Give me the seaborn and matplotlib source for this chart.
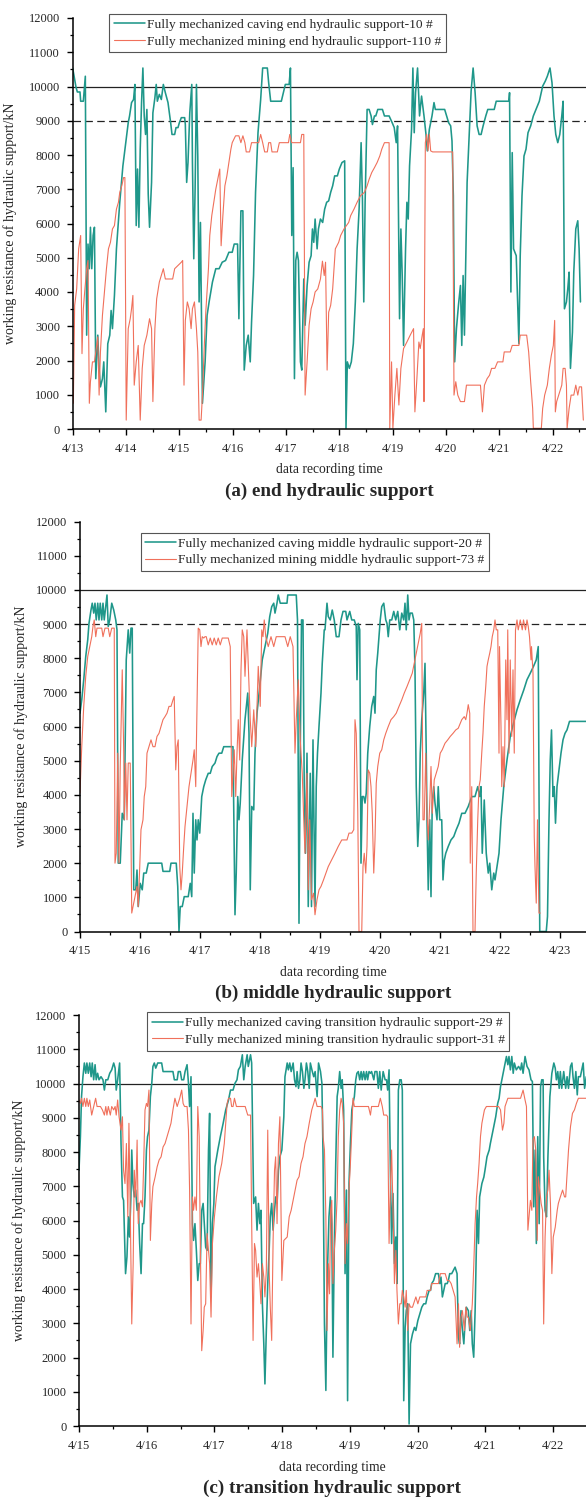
import matplotlib
matplotlib.use("Agg")
import matplotlib.pyplot as plt
import matplotlib.dates as mdates
import matplotlib.ticker as mticker
import seaborn as sns
import pandas as pd

# ---- data: hours since the first day shown, working resistance in kN ----

# (a) end hydraulic support, from 4/13
end_caving_h = [
    0.0, 1.5, 2.1, 3.3, 3.6, 4.8, 5.1, 5.7, 6.3, 6.9,
    7.5, 8.0, 8.6, 9.2, 9.8, 10.4, 11.3, 11.9, 12.5, 13.4,
    14.0, 14.9, 15.8, 16.7, 17.3, 17.9, 18.8, 19.7, 21.2, 22.6,
    24.1, 25.0, 25.6, 26.5, 27.4, 28.0, 28.6, 29.2, 29.8, 30.4,
    31.0, 31.6, 32.2, 32.8, 33.4, 34.0, 34.6, 35.5, 36.1, 37.0,
    37.6, 38.1, 39.0, 39.9, 40.8, 41.7, 42.9, 44.1, 44.7, 45.9,
    46.5, 47.4, 48.0, 48.9, 50.4, 50.7, 51.3, 51.9, 52.7, 53.6,
    53.9, 54.5, 55.1, 55.7, 56.3, 56.9, 57.5, 58.4, 59.0, 59.6,
    60.5, 61.4, 62.9, 64.4, 65.9, 67.3, 68.8, 70.3, 71.8, 72.7,
    74.2, 74.8, 75.7, 76.6, 77.2, 78.1, 79.0, 79.9, 80.5, 81.4,
    82.3, 83.4, 84.6, 85.5, 87.6, 88.2, 89.1, 93.9, 94.8, 95.7,
    97.4, 98.0, 98.6, 99.2, 99.8, 100.4, 101.0, 101.6, 102.5, 103.1,
    104.0, 104.6, 105.5, 106.4, 107.3, 107.9, 108.5, 109.1, 110.0, 110.6,
    111.5, 112.5, 113.4, 114.3, 115.2, 116.1, 117.0, 117.9, 119.1, 120.0,
    121.2, 122.4, 123.0, 123.6, 124.5, 125.4, 126.3, 127.2, 128.0, 128.9,
    129.8, 130.4, 131.0, 131.6, 132.5, 133.4, 134.3, 134.9, 135.8, 136.4,
    137.3, 139.4, 140.3, 142.4, 143.8, 144.7, 145.6, 146.2, 147.1, 147.7,
    148.3, 148.9, 149.8, 150.4, 151.0, 151.6, 152.5, 153.1, 153.7, 154.3,
    155.2, 156.1, 157.0, 158.1, 159.0, 159.6, 160.5, 161.7, 162.6, 163.2,
    167.4, 168.3, 169.2, 170.1, 170.7, 171.3, 171.9, 172.7, 173.6, 174.5,
    175.1, 175.7, 176.3, 176.9, 177.5, 178.4, 179.3, 180.2, 181.1, 182.0,
    182.9, 183.8, 184.7, 185.9, 186.8, 189.7, 190.6, 196.3, 196.6, 197.2,
    197.8, 198.4, 199.6, 200.8, 201.4, 202.2, 203.1, 204.0, 204.9, 206.1,
    207.3, 208.5, 210.0, 211.5, 212.7, 213.6, 214.8, 215.7, 216.6, 217.4,
    218.3, 219.2, 220.1, 220.7, 221.3, 222.2, 222.8, 223.4, 224.0, 224.9,
    225.5, 226.4, 227.3, 227.9, 228.5,
]
end_caving_kn = [
    10540, 9980, 9840, 9840, 9570, 9570, 9820, 10300, 2740, 5400,
    4680, 5890, 4680, 5650, 5890, 1470, 2740, 1770, 1230, 1470,
    1960, 500, 2490, 2740, 3460, 2930, 3900, 5260, 6620, 7680,
    8460, 8940, 9140, 9530, 9620, 10060, 5940, 7590, 5890, 8170,
    9530, 10540, 9140, 8600, 9330, 6860, 5890, 7200, 9230, 9670,
    10060, 9570, 9770, 9620, 10060, 9820, 9530, 8940, 8600, 8600,
    8800, 8800, 8940, 9090, 9090, 8890, 7200, 7780, 9230, 10060,
    7780, 4970, 7000, 10060, 7970, 3710, 6030, 750, 1380, 1960,
    3320, 3710, 4290, 4680, 4680, 4870, 4920, 5160, 5160, 5400,
    5400, 3220, 6370, 6370, 1720, 2440, 2740, 1960, 3120, 4480,
    6910, 8650, 9620, 10540, 10540, 10110, 9570, 9570, 9820, 10060,
    10060, 10540, 5650, 7630, 1470, 4920, 5160, 4920, 1960, 1720,
    4380, 3030, 4190, 4870, 5060, 5840, 5450, 6130, 5260, 5840,
    6130, 6030, 6420, 6620, 6660, 6910, 7100, 7390, 7390, 7590,
    7780, 7830, 20, 1960, 1770, 1960, 2490, 3710, 5260, 6420,
    8360, 6710, 3710, 6620, 9330, 9330, 9140, 8890, 9140, 9140,
    9330, 9330, 9140, 9140, 8940, 8800, 8360, 8850, 3220, 5840,
    4480, 2440, 5260, 6620, 6130, 7680, 8750, 10540, 8650, 9820,
    10540, 9140, 9720, 9140, 8600, 8120, 8750, 9140, 9530, 9330,
    9330, 9140, 8940, 8850, 8410, 6810, 1960, 2930, 3610, 4190,
    2440, 4480, 2740, 5060, 7200, 8560, 9860, 10540, 9820, 8850,
    8600, 8600, 8850, 9140, 9330, 9330, 9570, 9570, 9820, 4000,
    8070, 5260, 5060, 2490, 5060, 6810, 7970, 8170, 8650, 8850,
    9140, 9330, 9570, 10010, 10160, 10300, 10540, 10110, 9140, 8600,
    8360, 8600, 9140, 9570, 3510, 3710, 4090, 4580, 1770, 2830,
    4580, 5840, 6080, 5260, 3710,
]
end_mining_h = [
    0.3, 0.9, 1.8, 2.7, 3.6, 4.2, 4.8, 5.4, 6.3, 6.9,
    7.5, 8.0, 8.9, 9.8, 10.4, 11.3, 11.9, 12.5, 13.4, 14.3,
    15.2, 16.1, 17.0, 17.9, 18.8, 19.7, 20.6, 21.2, 22.1, 22.9,
    23.5, 24.1, 25.0, 25.9, 26.5, 27.1, 27.7, 28.6, 29.5, 30.4,
    31.3, 32.2, 33.4, 34.6, 35.5, 36.1, 37.0, 37.8, 39.0, 39.9,
    40.8, 41.7, 45.0, 45.9, 48.9, 49.5, 50.1, 50.7, 51.6, 52.4,
    53.3, 53.9, 54.8, 55.7, 56.3, 56.9, 57.8, 58.4, 59.3, 59.9,
    61.1, 61.7, 62.6, 63.5, 64.4, 65.3, 66.2, 66.8, 67.6, 68.5,
    69.4, 70.3, 71.2, 71.8, 73.3, 74.8, 75.7, 76.6, 77.5, 78.1,
    79.6, 80.5, 83.7, 84.6, 85.5, 86.4, 87.6, 88.2, 89.1, 89.7,
    92.1, 93.0, 97.1, 97.7, 98.6, 102.5, 103.1, 104.0, 104.6, 105.5,
    106.4, 107.3, 108.2, 109.1, 110.3, 111.5, 112.4, 113.2, 113.8, 114.5,
    115.2, 116.1, 117.0, 118.2, 119.7, 120.6, 122.1, 124.2, 125.1, 126.6,
    128.0, 129.5, 131.3, 132.5, 133.4, 134.6, 135.8, 137.0, 138.2, 139.1,
    140.3, 142.4, 142.7, 143.5, 144.1, 145.0, 145.9, 146.8, 147.7, 148.9,
    150.4, 151.9, 153.4, 154.0, 154.9, 155.8, 156.4, 157.3, 157.8, 158.1,
    158.7, 159.3, 159.9, 160.5, 161.1, 162.0, 171.0, 171.6, 172.4, 173.3,
    174.5, 176.3, 177.2, 183.5, 184.4, 185.3, 186.5, 187.6, 188.5, 190.0,
    191.2, 193.6, 194.2, 196.9, 197.8, 200.8, 201.4, 204.3, 205.2, 206.1,
    207.0, 207.3, 210.9, 211.5, 212.4, 213.6, 214.5, 215.4, 216.3, 216.9,
    217.2, 217.8, 218.7, 220.1, 220.7, 221.6, 222.2, 222.5, 223.4, 224.3,
    225.5, 226.4, 227.3, 228.0, 229.0, 229.8,
]
end_mining_kn = [
    750, 3610, 4090, 5260, 5650, 2200, 3510, 4000, 4680, 4920,
    750, 1380, 1960, 1960, 2250, 2690, 990, 2250, 3320, 4000,
    4680, 5260, 5450, 5840, 5940, 6420, 6620, 6910, 7100, 7340,
    7340, 260, 2930, 3220, 3510, 3900, 1280, 1960, 2440, 260,
    1770, 2440, 2740, 3220, 2930, 800, 2930, 3800, 4290, 4480,
    4680, 4380, 4380, 4680, 4870, 4920, 1280, 3170, 3710, 3510,
    2930, 3510, 3710, 2930, 2250, 260, 260, 990, 2540, 3410,
    4680, 5650, 6230, 6620, 7000, 7290, 7590, 5350, 6230, 7100,
    7390, 7780, 8170, 8360, 8560, 8560, 8360, 8560, 8360, 8090,
    8090, 8360, 8360, 8600, 8360, 8090, 8090, 8360, 8360, 8090,
    8090, 8360, 8360, 8600, 8360, 8360, 8600, 8600, 990, 1960,
    3030, 3510, 3710, 4000, 4090, 4380, 4900, 4480, 4870, 1720,
    3410, 3610, 4090, 5260, 5450, 5650, 5840, 6030, 6230, 6420,
    6620, 6810, 6910, 7100, 7290, 7490, 7630, 7780, 7970, 8170,
    8360, 8360, 20, 1960, 20, 990, 1770, 700, 1770, 2350,
    2540, 2740, 2930, 500, 1470, 2540, 2350, 2740, 2930, 800,
    8360, 8600, 8120, 8600, 8120, 8090, 8090, 990, 1380, 990,
    800, 800, 1280, 1280, 500, 1280, 1470, 1570, 1770, 1770,
    1960, 1960, 2250, 2250, 2440, 2440, 2740, 2740, 2250, 1380,
    600, 20, 20, 600, 990, 1280, 1770, 2150, 2440, 3170,
    500, 800, 990, 1280, 1770, 1770, 1280, 20, 600, 990,
    990, 1280, 990, 1230, 1230, 260,
]

# (b) middle hydraulic support, from 4/15
mid_caving_h = [
    0.0, 0.7, 1.5, 2.3, 3.1, 3.6, 4.4, 4.9, 5.5, 6.0,
    6.5, 7.1, 7.6, 8.1, 8.7, 9.2, 9.7, 10.3, 10.8, 11.3,
    11.9, 12.7, 13.5, 14.3, 14.8, 15.3, 16.1, 16.9, 17.7, 18.5,
    19.3, 19.9, 20.4, 20.9, 21.5, 22.3, 22.8, 23.3, 24.1, 24.9,
    25.5, 26.5, 27.3, 32.7, 33.2, 35.9, 36.4, 38.5, 39.1, 39.6,
    40.1, 40.9, 41.7, 43.3, 44.1, 44.7, 45.2, 45.7, 46.3, 46.8,
    47.3, 47.9, 48.7, 49.5, 50.3, 51.3, 52.1, 52.9, 54.0, 54.8,
    55.6, 56.7, 57.5, 61.2, 62.0, 62.5, 63.1, 63.6, 64.1, 64.9,
    66.0, 67.1, 67.6, 68.1, 68.7, 69.5, 70.0, 70.8, 71.9, 72.9,
    74.0, 75.1, 75.9, 76.7, 77.5, 78.0, 78.8, 79.3, 80.1, 82.8,
    83.1, 86.5, 87.0, 87.6, 88.1, 88.6, 89.2, 89.7, 90.2, 90.8,
    91.3, 92.1, 92.6, 93.2, 94.0, 94.5, 95.0, 95.6, 96.4, 96.9,
    97.7, 98.0, 98.8, 99.3, 100.1, 100.9, 101.7, 102.5, 103.6, 104.4,
    105.2, 106.3, 106.8, 107.9, 108.7, 109.7, 110.5, 110.8, 111.3, 111.9,
    112.4, 112.9, 113.5, 114.0, 114.5, 115.1, 115.9, 116.7, 117.5, 118.0,
    118.5, 119.1, 119.6, 120.1, 120.7, 121.5, 122.3, 122.8, 123.3, 123.9,
    124.7, 125.5, 126.3, 127.1, 127.9, 128.7, 129.5, 130.0, 130.5, 131.1,
    131.6, 132.1, 132.9, 133.5, 134.0, 134.5, 135.1, 135.6, 136.1, 136.7,
    137.5, 138.0, 138.5, 138.8, 139.3, 139.9, 140.4, 140.9, 141.5, 142.0,
    142.8, 143.3, 143.9, 144.7, 145.2, 145.7, 146.3, 147.3, 148.4, 149.5,
    150.5, 151.6, 152.7, 154.0, 155.3, 156.7, 158.0, 159.1, 159.9, 160.4,
    160.9, 161.7, 162.5, 163.3, 163.9, 164.7, 165.5, 166.0, 166.8, 167.6,
    168.4, 169.5, 170.8, 172.1, 173.4, 174.8, 176.1, 177.5, 178.8, 180.1,
    181.4, 182.5, 183.3, 183.9, 186.5, 187.0, 187.6, 188.1, 188.6, 189.2,
    189.7, 190.2, 190.8, 191.6, 192.4, 193.2, 194.0, 194.8, 195.8, 202.4,
]
mid_caving_kn = [
    6390, 6780, 7370, 8050, 8540, 9020, 9410, 9610, 9320, 9610,
    9120, 9610, 9120, 9610, 9120, 9610, 9120, 9510, 9850, 8930,
    9120, 9610, 9410, 9120, 8830, 2000, 2000, 3460, 3270, 7950,
    8830, 8150, 8880, 8880, 1220, 1220, 1800, 730, 1410, 1220,
    1710, 1710, 2000, 2000, 1760, 1760, 2000, 2000, 1320, 0,
    730, 730, 1020, 1020, 1410, 1020, 3460, 1710, 3270, 2680,
    3270, 2880, 3950, 4240, 4440, 4630, 4630, 4830, 4930, 5120,
    5220, 5220, 5410, 5410, 490, 1710, 3950, 3270, 3760, 5020,
    6200, 6980, 5800, 1220, 3660, 3560, 5220, 6390, 7170, 7950,
    8340, 8730, 9220, 9510, 9610, 9320, 9610, 9850, 9610, 9610,
    9850, 9850, 9120, 240, 5220, 9120, 9120, 4240, 2290, 5220,
    730, 4630, 730, 5610, 730, 4240, 5220, 6000, 6980, 7850,
    8830, 8830, 9610, 9220, 9120, 9410, 9120, 8630, 8630, 9120,
    9370, 9370, 9120, 9370, 9120, 9120, 8930, 7370, 9020, 8830,
    2000, 3950, 3950, 3760, 4050, 5220, 6000, 6590, 6880, 6390,
    7660, 8150, 8630, 9120, 9510, 9610, 9120, 9020, 8630, 9120,
    9120, 9370, 9120, 9370, 8830, 9320, 9120, 9610, 8830, 9850,
    9120, 9320, 9320, 9120, 7660, 4240, 2490, 3270, 5220, 6200,
    6980, 7850, 5220, 3270, 1220, 3270, 1020, 3760, 4240, 3760,
    3270, 4240, 3270, 3270, 1510, 2080, 2290, 2490, 2680, 2780,
    2980, 3170, 3460, 3460, 3660, 3950, 3950, 4240, 3950, 4240,
    2290, 3850, 2290, 1710, 2000, 1220, 1710, 1510, 1900, 2290,
    3270, 4240, 5020, 5710, 6100, 6490, 6780, 7070, 7370, 7560,
    7760, 7950, 8340, 0, 0, 440, 3270, 5020, 5900, 3950,
    4240, 3170, 4240, 4730, 5220, 5610, 5800, 5900, 6150, 6150,
]
mid_mining_h = [
    0.0, 0.7, 1.5, 2.3, 3.1, 3.9, 4.7, 5.2, 5.7, 6.3,
    6.8, 8.7, 9.2, 10.0, 11.3, 11.9, 12.7, 13.7, 14.0, 14.5,
    15.1, 15.6, 16.1, 16.9, 17.5, 17.7, 18.3, 18.8, 19.3, 20.1,
    20.7, 21.2, 22.0, 22.8, 23.3, 23.9, 24.4, 25.2, 25.7, 26.3,
    26.8, 27.6, 28.4, 29.2, 30.0, 30.8, 31.6, 32.4, 33.2, 34.0,
    34.8, 35.6, 36.4, 37.2, 37.7, 38.3, 38.8, 39.3, 39.9, 40.4,
    40.9, 41.5, 42.0, 42.8, 43.6, 44.4, 45.2, 45.7, 46.3, 46.8,
    47.3, 47.9, 48.4, 48.9, 49.5, 50.0, 50.5, 51.3, 52.1, 52.9,
    53.7, 54.5, 55.3, 56.1, 56.9, 59.3, 60.1, 60.7, 61.2, 61.7,
    62.3, 62.8, 63.3, 63.9, 64.4, 64.9, 65.5, 66.0, 66.8, 67.6,
    68.1, 68.7, 69.5, 70.3, 71.3, 72.1, 72.7, 73.2, 73.7, 74.3,
    75.3, 76.4, 77.5, 78.5, 80.7, 82.0, 83.1, 84.1, 85.2, 86.0,
    86.5, 87.3, 88.1, 88.9, 89.5, 90.0, 90.8, 91.3, 91.9, 92.6,
    93.4, 94.0, 94.8, 95.6, 96.4, 97.4, 99.3, 100.7, 102.0, 103.3,
    104.7, 106.0, 106.8, 107.6, 108.7, 109.5, 110.0, 110.5, 111.1, 111.6,
    112.7, 113.2, 113.7, 114.3, 114.8, 115.3, 115.9, 116.4, 116.9, 117.5,
    118.0, 118.5, 119.1, 119.9, 120.7, 121.5, 122.3, 123.3, 124.4, 125.5,
    126.5, 127.6, 128.7, 129.7, 130.8, 131.9, 132.9, 133.7, 134.5, 135.3,
    136.1, 136.7, 137.2, 137.7, 138.3, 138.8, 139.3, 139.9, 140.4, 140.9,
    141.7, 142.5, 143.3, 144.1, 144.9, 146.0, 147.1, 148.1, 149.2, 150.3,
    151.3, 152.7, 153.7, 154.3, 154.8, 155.3, 155.9, 156.1, 156.7, 157.2,
    158.0, 158.5, 159.1, 159.6, 160.1, 160.7, 161.2, 161.7, 162.3, 162.8,
    163.3, 163.9, 164.4, 164.9, 165.5, 166.0, 166.5, 167.1, 167.6, 167.8,
    168.4, 168.7, 169.2, 169.7, 170.3, 170.8, 171.1, 171.6, 172.1, 172.7,
    173.2, 173.7, 174.2, 174.8, 175.3, 176.1, 176.9, 177.4, 178.2, 178.8,
    179.3, 179.8, 180.4, 180.6, 181.2, 181.7, 182.0, 182.5, 183.0, 183.3,
    183.6, 184.1,
]
mid_mining_kn = [
    4050, 5410, 6590, 7470, 8050, 8340, 8630, 8930, 9120, 8630,
    8880, 8880, 8630, 8880, 8880, 8630, 8880, 8880, 2000, 2290,
    5220, 2000, 4830, 7660, 5220, 3270, 4930, 3270, 4930, 4930,
    540, 730, 1020, 1320, 730, 1900, 2980, 3270, 3950, 4240,
    5220, 5410, 5610, 5410, 5410, 5710, 5800, 6000, 6200, 6290,
    6390, 6590, 6590, 6780, 6880, 4730, 5410, 5610, 1900, 1220,
    1710, 2490, 3070, 3660, 4240, 4630, 5020, 5320, 4240, 6590,
    8880, 8830, 8340, 8630, 8590, 8630, 8630, 8390, 8590, 8390,
    8590, 8390, 8590, 8390, 8590, 8590, 8340, 3950, 4630, 5320,
    3950, 5220, 6200, 5020, 7660, 8830, 8630, 7470, 8830, 7170,
    6200, 5410, 6490, 5410, 7760, 6590, 8830, 8630, 9120, 8630,
    8340, 8630, 8340, 8630, 8630, 8630, 8340, 8630, 8340, 5220,
    6200, 7370, 5610, 4630, 3270, 2290, 4630, 1220, 3270, 930,
    1120, 490, 930, 1220, 1320, 1510, 1900, 2100, 2290, 2490,
    2680, 2680, 2680, 2880, 2880, 2980, 6200, 5800, 3560, 0,
    0, 1900, 2290, 1710, 2490, 4730, 4630, 4240, 3460, 1710,
    2680, 4340, 4830, 5220, 5320, 5610, 5800, 6000, 6200, 6290,
    6390, 6590, 6780, 6980, 7170, 7370, 7560, 7850, 8150, 8440,
    8730, 9020, 3270, 3270, 5220, 3460, 2680, 3760, 4830, 3460,
    4440, 4630, 4830, 5220, 5320, 5510, 5610, 5710, 5800, 5900,
    5950, 6200, 6290, 6200, 6390, 6640, 6390, 2000, 4240, 0,
    0, 1710, 3270, 4240, 4440, 5220, 5800, 6590, 7170, 7760,
    7950, 8150, 8340, 8630, 8830, 9120, 8830, 8830, 5220, 8340,
    6000, 4240, 5410, 4240, 7950, 6200, 8830, 5220, 7950, 5710,
    7660, 5220, 8830, 9120, 8830, 9120, 8830, 9120, 8830, 9120,
    8930, 8630, 7950, 8340, 7560, 2780, 1900, 830, 3270, 1710,
    540, 540,
]

# (c) transition hydraulic support, from 4/15
trans_caving_h = [
    0.0, 0.5, 0.9, 1.4, 1.9, 2.4, 2.8, 3.3, 3.8, 4.3,
    4.7, 5.2, 5.7, 6.1, 6.6, 7.1, 7.8, 8.5, 9.0, 9.5,
    10.2, 10.9, 11.6, 12.3, 12.8, 13.2, 13.7, 14.4, 14.9, 15.4,
    15.8, 16.5, 17.0, 17.5, 17.9, 18.4, 18.7, 19.1, 19.6, 20.1,
    20.6, 21.0, 21.5, 22.0, 22.5, 22.9, 23.4, 23.9, 24.3, 24.8,
    25.3, 25.8, 26.2, 26.7, 27.2, 27.9, 29.3, 29.8, 30.5, 31.2,
    32.6, 33.3, 33.8, 34.8, 35.2, 35.9, 36.4, 37.1, 37.6, 38.3,
    38.8, 39.2, 39.7, 40.2, 40.6, 41.1, 41.6, 42.1, 42.6, 43.0,
    43.5, 44.0, 44.4, 44.9, 45.4, 45.9, 46.3, 46.8, 47.3, 47.8,
    48.2, 49.2, 50.1, 51.1, 52.0, 53.0, 53.7, 54.6, 55.3, 56.0,
    56.5, 57.2, 57.9, 58.4, 58.9, 59.6, 60.0, 60.8, 61.2, 61.9,
    62.6, 63.1, 63.6, 64.1, 64.5, 65.0, 65.5, 65.9, 66.4, 66.9,
    67.4, 67.8, 68.3, 68.8, 69.3, 69.7, 70.2, 70.7, 71.2, 71.9,
    72.6, 73.0, 73.8, 74.2, 74.7, 75.2, 75.9, 76.4, 76.9, 77.3,
    77.8, 78.3, 78.7, 79.2, 79.7, 80.1, 80.6, 81.1, 81.6, 82.0,
    82.7, 83.2, 83.7, 84.4, 84.9, 85.6, 86.1, 86.5, 87.0, 87.5,
    88.0, 88.6, 89.1, 89.6, 90.0, 90.5, 91.0, 91.5, 91.9, 92.4,
    92.9, 93.3, 93.8, 94.3, 94.8, 95.2, 95.7, 96.2, 96.7, 97.1,
    97.6, 98.1, 98.5, 99.0, 99.5, 100.0, 100.4, 100.9, 101.4, 101.9,
    102.3, 102.8, 103.3, 103.7, 104.5, 104.9, 105.6, 106.1, 106.6, 107.1,
    107.8, 108.5, 109.0, 109.4, 109.9, 110.4, 110.8, 111.3, 111.8, 112.3,
    112.7, 113.2, 113.7, 114.2, 114.6, 115.1, 115.6, 116.0, 116.5, 117.0,
    117.5, 118.2, 118.9, 119.4, 120.1, 120.8, 121.5, 122.2, 122.9, 123.4,
    124.1, 124.6, 125.0, 125.7, 126.4, 126.9, 127.4, 127.9, 128.3, 128.8,
    129.3, 129.8, 130.5, 130.9, 131.4, 132.1, 133.3, 134.0, 134.5, 134.9,
    135.4, 135.9, 136.4, 136.8, 137.3, 138.0, 138.5, 139.0, 139.4, 139.9,
    140.4, 141.1, 141.6, 142.0, 142.8, 143.5, 143.9, 144.6, 145.4, 145.8,
    146.3, 147.0, 147.7, 148.4, 148.9, 149.4, 150.1, 150.8, 151.5, 152.0,
    152.4, 152.9, 153.4, 153.9, 154.3, 155.0, 155.8, 156.5, 156.9, 157.4,
    158.1, 158.8, 159.5, 160.2, 160.7, 161.2, 161.7, 162.1, 162.6, 163.1,
    163.6, 164.0, 164.5, 164.7, 165.2, 165.7, 166.2, 166.9, 167.6, 168.3,
    168.8, 169.2, 169.7, 170.2, 170.6, 171.1, 171.8, 172.5, 173.0, 173.5,
    174.2, 174.7, 175.1, 175.6, 176.1, 176.6, 177.0, 177.7, 178.2, 178.7,
    179.2, 179.8,
]
trans_caving_kn = [
    7470, 8450, 9620, 10200, 10600, 10300, 10600, 10300, 10600, 10200,
    10600, 10110, 10550, 10110, 10300, 10110, 10200, 10110, 9810, 10110,
    10110, 10300, 10400, 10600, 10450, 9810, 10110, 10600, 8250, 6690,
    6590, 4450, 4940, 6110, 5520, 6690, 8060, 7080, 6690, 6890,
    6300, 6500, 5330, 4450, 5910, 5910, 6690, 8060, 8450, 8640,
    9620, 10010, 10500, 10600, 10450, 10600, 10600, 10350, 10350, 10350,
    10350, 10350, 10110, 10110, 10350, 10350, 10110, 10110, 10350, 10550,
    10010, 9330, 10200, 5910, 5420, 5910, 5130, 4250, 4740, 4740,
    6300, 6500, 5910, 5220, 5130, 8060, 9130, 3770, 5910, 6500,
    7570, 8060, 8450, 8840, 9230, 9520, 9810, 9810, 10010, 10110,
    10400, 10500, 10840, 10110, 10500, 10840, 10500, 10840, 10600, 6500,
    6690, 5720, 6500, 5910, 6300, 3570, 2400, 1230, 2790, 4160,
    5130, 6110, 6500, 5720, 6300, 6690, 6500, 7470, 7860, 8060,
    9030, 10200, 10600, 10400, 10600, 10350, 10600, 10110, 9910, 10350,
    9860, 10110, 10600, 10350, 9860, 10110, 10600, 10350, 9860, 10600,
    10350, 10200, 10350, 9620, 10600, 10350, 10010, 7860, 2980, 1040,
    4350, 6110, 6690, 5910, 2010, 5330, 7670, 9620, 9860, 10350,
    9860, 10110, 9230, 4450, 6890, 740, 7080, 8250, 9230, 9420,
    9620, 10110, 10300, 10350, 10110, 10350, 10110, 10350, 10110, 10350,
    10110, 10350, 10300, 10350, 10110, 10350, 10350, 9860, 10350, 9810,
    10350, 10110, 10110, 9810, 10400, 7270, 5330, 6790, 4740, 5520,
    4160, 9810, 10110, 10110, 9810, 740, 2880, 3370, 3570, 60,
    2400, 2690, 2880, 2790, 3080, 3280, 3470, 3570, 3570, 3770,
    3960, 3960, 4160, 4250, 4450, 4450, 4450, 4160, 4350, 3770,
    3960, 4160, 4160, 4250, 4450, 4450, 4640, 4450, 2590, 2400,
    3370, 2790, 2400, 2980, 3470, 3370, 2790, 3370, 2400, 2010,
    3370, 6300, 5330, 6690, 7080, 7270, 7470, 7860, 8060, 8250,
    8450, 8740, 9030, 9420, 9570, 9910, 10200, 10500, 10790, 10550,
    10790, 10400, 10790, 10300, 10600, 10400, 10500, 10400, 10600, 10300,
    10790, 10500, 10400, 10110, 10060, 6400, 8060, 5330, 8450, 5910,
    9910, 10110, 10110, 7860, 6300, 6110, 7860, 9620, 10300, 10600,
    10450, 10110, 10350, 9860, 10350, 9860, 10350, 9860, 10200, 9860,
    10500, 10600, 10200, 9860, 10350, 9670, 10200, 10200, 10400, 10600,
    9860, 10200,
]
trans_mining_h = [
    0.0, 0.5, 0.9, 1.4, 1.9, 2.4, 2.8, 3.3, 3.8, 4.5,
    5.2, 5.9, 6.4, 6.9, 7.6, 8.3, 9.0, 9.5, 9.9, 10.4,
    11.1, 11.6, 12.3, 12.8, 13.2, 13.7, 14.2, 14.9, 15.4, 15.8,
    16.3, 16.8, 17.3, 17.7, 18.2, 18.7, 19.2, 19.6, 20.1, 20.6,
    21.0, 21.5, 22.0, 22.5, 22.9, 23.4, 23.9, 24.3, 24.8, 25.3,
    25.8, 26.2, 27.0, 27.7, 28.4, 29.1, 29.8, 30.5, 31.2, 31.9,
    32.6, 33.3, 34.0, 34.8, 35.7, 36.4, 36.9, 37.4, 38.3, 38.8,
    39.2, 39.7, 40.2, 40.6, 41.1, 41.6, 42.1, 42.6, 43.0, 43.5,
    44.0, 44.4, 44.9, 45.4, 45.9, 46.3, 46.8, 47.3, 48.0, 48.7,
    49.6, 50.6, 51.5, 52.5, 53.0, 53.7, 54.1, 54.6, 55.1, 55.8,
    56.5, 58.9, 59.8, 60.8, 61.2, 61.7, 62.2, 62.6, 63.1, 63.6,
    64.1, 64.5, 65.0, 65.5, 65.9, 66.4, 66.9, 67.4, 67.8, 68.3,
    68.8, 69.3, 69.7, 70.2, 70.7, 71.2, 71.9, 72.6, 73.8, 74.5,
    75.2, 75.9, 76.6, 77.3, 78.0, 78.7, 79.4, 80.1, 80.8, 81.6,
    82.5, 83.2, 83.7, 84.4, 85.1, 85.8, 86.3, 86.5, 87.0, 87.5,
    87.9, 88.4, 88.8, 89.2, 89.6, 90.0, 90.5, 91.0, 91.5, 91.9,
    92.4, 92.9, 93.3, 93.8, 94.3, 94.8, 95.2, 95.7, 96.2, 96.7,
    97.1, 97.6, 99.0, 100.2, 101.4, 102.6, 103.3, 103.7, 104.9, 106.1,
    106.8, 107.5, 108.0, 109.0, 109.4, 109.9, 110.4, 110.8, 111.3, 111.8,
    112.3, 112.7, 113.2, 113.7, 114.2, 114.6, 115.1, 115.6, 116.0, 116.5,
    117.0, 117.5, 118.2, 118.6, 119.4, 120.1, 120.8, 121.5, 122.2, 122.9,
    123.4, 124.6, 125.0, 127.4, 128.1, 129.8, 130.5, 131.2, 131.9, 132.6,
    133.3, 134.0, 134.5, 134.9, 135.4, 135.9, 136.6, 137.1, 137.6, 138.0,
    138.7, 139.4, 139.9, 140.4, 140.9, 141.3, 141.8, 142.3, 142.8, 143.7,
    144.4, 146.3, 148.7, 149.4, 150.1, 150.6, 151.0, 152.0, 152.9, 154.1,
    155.0, 155.8, 156.5, 157.4, 158.1, 158.6, 159.1, 159.5, 160.0, 160.5,
    160.9, 161.4, 161.9, 162.4, 162.8, 163.3, 163.8, 164.3, 164.7, 165.2,
    165.7, 166.2, 166.6, 167.1, 167.6, 168.1, 168.8, 169.5, 169.9, 170.6,
    171.4, 172.1, 172.5, 173.0, 173.5, 174.2, 174.9, 175.6, 176.3, 177.0,
    178.2, 179.8,
]
trans_mining_kn = [
    9520, 9420, 9570, 9330, 9570, 9330, 9570, 9330, 9520, 9080,
    9330, 9570, 9330, 9330, 9330, 9230, 9080, 9330, 9080, 9330,
    9080, 9330, 9230, 9330, 9080, 9520, 9030, 8640, 9030, 7470,
    7080, 8250, 6110, 8840, 6110, 2980, 4740, 7470, 6690, 8350,
    5910, 6500, 6590, 6400, 7570, 9230, 9420, 9330, 9810, 5420,
    6500, 6990, 7280, 7570, 7770, 7860, 8150, 8250, 8450, 8640,
    8840, 9230, 9570, 9330, 9570, 9810, 9420, 9330, 9330, 8640,
    6890, 2980, 6690, 6300, 6690, 6300, 9330, 8450, 5330, 2200,
    2790, 3470, 3570, 5620, 5130, 4740, 3180, 5330, 6110, 6690,
    7280, 7670, 8250, 9420, 9570, 9570, 9330, 9330, 9570, 9330,
    9330, 9330, 9080, 9080, 6010, 2500, 5330, 5130, 4350, 4740,
    4160, 3570, 4740, 4350, 3770, 4550, 8640, 4550, 3470, 2500,
    5420, 7470, 7860, 5910, 8250, 9030, 4250, 5420, 5520, 6110,
    6300, 6590, 6890, 7180, 7280, 7670, 7860, 8250, 8450, 8840,
    9230, 9420, 9570, 9330, 9330, 9330, 9230, 8450, 8060, 6110,
    2790, 4740, 3860, 6300, 6590, 4160, 5130, 5720, 6690, 8450,
    9230, 9570, 9420, 8840, 4740, 5910, 5330, 6890, 7670, 8640,
    9570, 9330, 9330, 9330, 9330, 9330, 9080, 9330, 9330, 9330,
    9570, 9330, 9080, 9080, 9030, 5330, 7080, 8060, 6300, 4160,
    5130, 3960, 2980, 3570, 3570, 3960, 3770, 3470, 3960, 2790,
    3570, 3470, 3470, 3570, 3770, 3570, 3770, 3770, 3770, 3770,
    3960, 3960, 4160, 4160, 4450, 4450, 4250, 4250, 4160, 3960,
    3770, 2400, 3570, 2300, 3180, 3370, 2790, 3470, 3180, 3180,
    2790, 3570, 4640, 5910, 6690, 7080, 7670, 8450, 8840, 9230,
    9330, 9330, 9330, 9230, 8640, 8840, 9330, 9570, 9570, 9570,
    9570, 9570, 9570, 9810, 9520, 9330, 5720, 6110, 6590, 6300,
    8350, 8450, 8060, 5420, 7280, 6890, 6500, 6300, 2980, 5520,
    6690, 6890, 7470, 6500, 4450, 5520, 5810, 6300, 6500, 6690,
    6890, 6690, 6690, 7370, 8060, 8740, 9130, 9230, 9420, 9570,
    9570, 9570,
]

start_days = ["2021-04-13", "2021-04-15", "2021-04-15"]
span_hours = [231.0, 202.4, 179.7]
legend_labels = [
    ["Fully mechanized caving end hydraulic support-10 #",
     "Fully mechanized mining end hydraulic support-110 #"],
    ["Fully mechanized caving middle hydraulic support-20 #",
     "Fully mechanized mining middle hydraulic support-73 #"],
    ["Fully mechanized caving transition hydraulic support-29 #",
     "Fully mechanized mining transition hydraulic support-31 #"],
]
titles = ["(a) end hydraulic support", "(b) middle hydraulic support",
          "(c) transition hydraulic support"]

TEAL = "#1f978a"
SALMON = "#f0705b"


def draw_panel(ax, start, span, cav_h, cav_kn, min_h, min_kn, labels, title,
               dashed, leg_xy, ylab_x):
    t0 = pd.Timestamp(start)
    sns.lineplot(x=t0 + pd.to_timedelta(cav_h, unit="h"), y=cav_kn, ax=ax,
                 color=TEAL, linewidth=1.15, estimator=None, sort=False,
                 label=labels[0])
    sns.lineplot(x=t0 + pd.to_timedelta(min_h, unit="h"), y=min_kn, ax=ax,
                 color=SALMON, linewidth=0.8, estimator=None, sort=False,
                 label=labels[1])
    ax.axhline(10000, color="#222222", lw=0.9, zorder=1)
    if dashed:
        ax.axhline(9000, color="#222222", lw=0.9, ls=(0, (6, 3.5)), zorder=1)

    ax.set_xlim(t0, t0 + pd.Timedelta(hours=span))
    ax.set_ylim(0, 12000)
    ax.yaxis.set_major_locator(mticker.MultipleLocator(1000))
    ax.yaxis.set_minor_locator(mticker.MultipleLocator(500))
    ax.xaxis.set_major_locator(mdates.DayLocator())
    ax.xaxis.set_minor_locator(mdates.HourLocator(byhour=[12]))
    ax.xaxis.set_major_formatter(mticker.FuncFormatter(
        lambda x, pos: f"{mdates.num2date(x).month}/{mdates.num2date(x).day}"))

    ax.tick_params(which="major", length=4, width=1.0, direction="out",
                   labelsize=9, color="black")
    ax.tick_params(which="minor", length=2, width=0.9, direction="out",
                   color="black")
    ax.tick_params(axis="x", which="major", pad=6)
    ax.tick_params(axis="y", which="major", pad=5)
    sns.despine(ax=ax)
    for side in ["left", "bottom"]:
        ax.spines[side].set_linewidth(1.1)
        ax.spines[side].set_color("black")

    ax.set_ylabel("working resistance of hydraulic support/kN", fontsize=10)
    ax.yaxis.label.set_va("center")
    ax.yaxis.set_label_coords(ylab_x, 0.5)
    ax.set_xlabel("data recording time", fontsize=9.8)
    ax.xaxis.label.set_va("center")
    ax.xaxis.set_label_coords(0.5, -41 / 411)
    ax.text(0.5, -62 / 411, title, transform=ax.transAxes, ha="center",
            va="center", fontsize=13.8, fontweight="bold")

    leg = ax.legend(loc="upper left", bbox_to_anchor=leg_xy, frameon=True,
                    fancybox=False, edgecolor="#555555", framealpha=1,
                    fontsize=9.7, handlelength=2.3, handletextpad=0.15,
                    borderpad=0.35, labelspacing=0.3, borderaxespad=0)
    leg.get_frame().set_linewidth(0.8)


sns.set_style("ticks")
plt.rcParams["font.family"] = ["Liberation Serif", "DejaVu Serif"]

fig = plt.figure(figsize=(5.86, 15), dpi=100)
ax_a = fig.add_axes([0.124, 0.714, 0.876, 0.274])
ax_b = fig.add_axes([0.1365, 0.379, 0.8635, 0.2733])
ax_c = fig.add_axes([0.1348, 0.0493, 0.8652, 0.274])

draw_panel(ax_a, start_days[0], span_hours[0], end_caving_h, end_caving_kn,
           end_mining_h, end_mining_kn, legend_labels[0], titles[0], True,
           (0.071, 1.01), -0.1216)
draw_panel(ax_b, start_days[1], span_hours[1], mid_caving_h, mid_caving_kn,
           mid_mining_h, mid_mining_kn, legend_labels[1], titles[1], True,
           (0.12, 0.973), -0.1156)
draw_panel(ax_c, start_days[2], span_hours[2], trans_caving_h, trans_caving_kn,
           trans_mining_h, trans_mining_kn, legend_labels[2], titles[2], False,
           (0.134, 1.007), -0.118)

fig.savefig("out.png", dpi=100, facecolor="white")
